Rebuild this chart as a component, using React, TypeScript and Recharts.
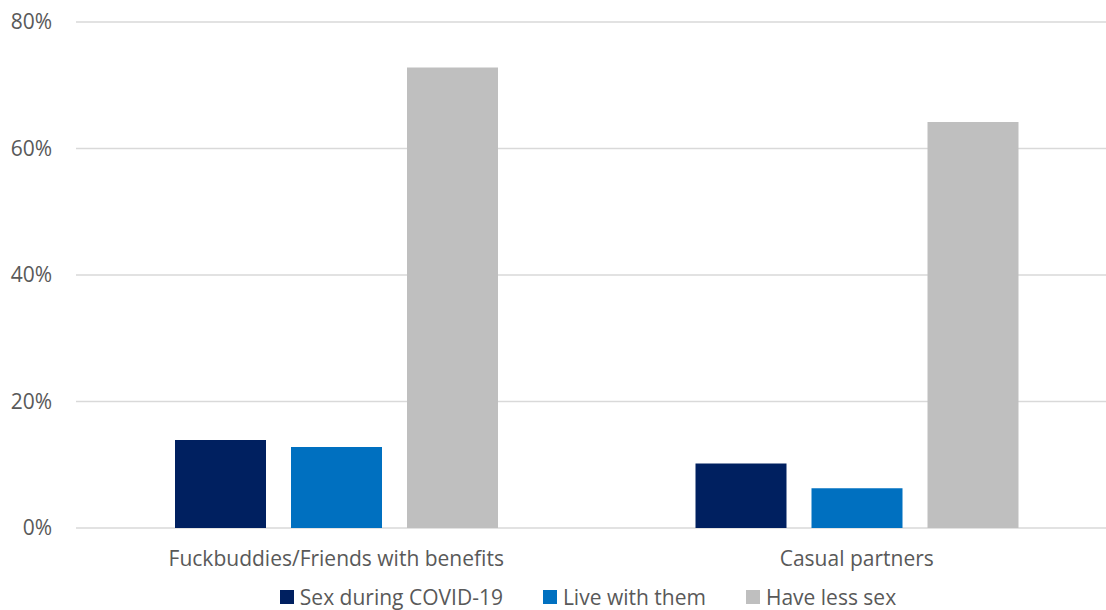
import React from "react";
import { BarChart, Bar, XAxis, YAxis, CartesianGrid, Legend } from "recharts";

// Partner types on the category axis
const categories = ["Fuckbuddies/Friends with benefits", "Casual partners"];

// Share of respondents (%) per partner type
const sexDuringCovid = [13.9, 10.2];
const liveWithThem = [12.8, 6.3];
const haveLessSex = [72.8, 64.2];

const yTicks = [0, 20, 40, 60, 80];

const series = [
  { key: "sexDuringCovid", name: "Sex during COVID-19", color: "#002060" },
  { key: "liveWithThem", name: "Live with them", color: "#0070C0" },
  { key: "haveLessSex", name: "Have less sex", color: "#BFBFBF" },
];

const data = categories.map((category, i) => ({
  category,
  sexDuringCovid: sexDuringCovid[i],
  liveWithThem: liveWithThem[i],
  haveLessSex: haveLessSex[i],
}));

const FONT = "'Open Sans', sans-serif";
const FONT_SIZE = 21;
const TEXT_COLOR = "#595959";

const LegendContent = () => (
  <div
    style={{
      display: "flex",
      justifyContent: "center",
      alignItems: "center",
      gap: 40,
      fontFamily: FONT,
      fontSize: FONT_SIZE,
      color: TEXT_COLOR,
      lineHeight: "26px",
      height: 26,
    }}
  >
    {series.map((s) => (
      <div key={s.key} style={{ display: "flex", alignItems: "center" }}>
        <span
          style={{
            display: "inline-block",
            width: 14,
            height: 14,
            background: s.color,
            marginRight: 6,
          }}
        />
        <span>{s.name}</span>
      </div>
    ))}
  </div>
);

export default function App() {
  return (
    <div
      style={{
        position: "fixed",
        top: 0,
        left: 0,
        width: 1106,
        height: 610,
        overflow: "hidden",
        background: "#fff",
      }}
    >
      <BarChart
        width={1140}
        height={610}
        data={data}
        margin={{ top: 22, right: 23, bottom: 42, left: 0 }}
        barSize={91}
        barGap={25}
      >
        <CartesianGrid vertical={false} stroke="#D9D9D9" strokeWidth={1.5} />
        <XAxis
          dataKey="category"
          height={40}
          axisLine={false}
          tickLine={false}
          tickSize={0}
          tickMargin={23}
          tick={{ fill: TEXT_COLOR, fontSize: FONT_SIZE, fontFamily: FONT }}
        />
        <YAxis
          width={76}
          domain={[0, 80]}
          ticks={yTicks}
          axisLine={false}
          tickLine={false}
          tickSize={0}
          tickMargin={24}
          tickFormatter={(v: number) => `${v}%`}
          tick={{ fill: TEXT_COLOR, fontSize: FONT_SIZE, fontFamily: FONT }}
        />
        <Legend
          layout="horizontal"
          verticalAlign="middle"
          align="center"
          wrapperStyle={{ top: 584, left: 0, width: 1176, height: 26 }}
          content={LegendContent}
        />
        {series.map((s) => (
          <Bar key={s.key} dataKey={s.key} name={s.name} fill={s.color} isAnimationActive={false} />
        ))}
      </BarChart>
    </div>
  );
}
